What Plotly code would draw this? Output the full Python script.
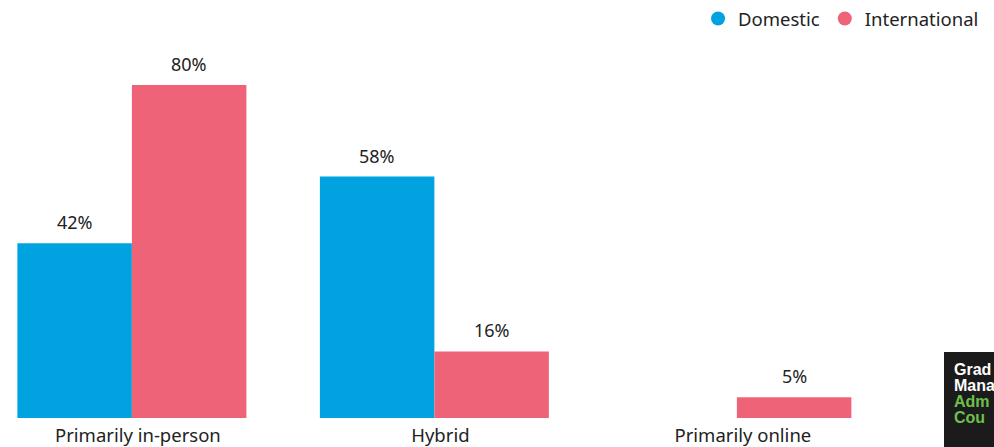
import plotly.graph_objects as go

categories = ["Primarily in-person", "Hybrid", "Primarily online"]
domestic = [42, 58, None]
international = [80, 16, 5]
series_names = ["Domestic", "International"]
colors = ["#00A3E0", "#EF6379"]
logo_lines = ["Grad", "Mana", "Adm", "Cou"]

FONT = "Noto Sans"
TXT = "#222222"
W, H = 994, 447
MB = 29
PLOT_H = H - MB
XR = [-0.436, 2.85]
BARGAP = 0.243
cat_px = W / (XR[1] - XR[0])
bar_px = cat_px * (1 - BARGAP) / 2

fig = go.Figure()
for k, (name, vals, col) in enumerate(zip(series_names, [domestic, international], colors)):
    fig.add_trace(go.Bar(
        x=categories, y=vals, name=name, marker=dict(color=col, line=dict(width=0)),
        showlegend=False, hoverinfo="skip"))
    fig.add_trace(go.Scatter(
        x=[None], y=[None], mode="markers", name=name,
        marker=dict(color=col, size=14, symbol="circle"), showlegend=True))
    shift = (k - 0.5) * bar_px
    for c, v in zip(categories, vals):
        if v is None:
            continue
        fig.add_annotation(x=c, y=v, text=f"{v}%", showarrow=False, xshift=shift,
                           yanchor="middle", yshift=21,
                           font=dict(family=FONT, size=18, color=TXT))

fig.update_layout(
    width=W, height=H,
    margin=dict(l=0, r=0, t=0, b=MB),
    paper_bgcolor="white", plot_bgcolor="white",
    barmode="group", bargap=BARGAP, bargroupgap=0,
    font=dict(family=FONT, size=18, color=TXT),
    legend=dict(orientation="h", x=0.99, xanchor="right", y=1.0, yanchor="top",
                font=dict(family=FONT, size=18.5, color=TXT),
                itemwidth=30, tracegroupgap=0,
                bgcolor="rgba(0,0,0,0)"),
    xaxis=dict(range=XR, showgrid=False, showline=False, zeroline=False,
               ticks="", ticklabelshift=6, ticklabelstandoff=4,
               tickfont=dict(family=FONT, size=18.5, color=TXT)),
    yaxis=dict(range=[0, 100.4], visible=False),
)

# logo box (partially cut off at right edge, as in the reference)
fig.add_shape(type="rect", xref="paper", yref="paper", x0=944 / W, x1=1.05,
              y0=-0.2, y1=(PLOT_H - 352) / PLOT_H, fillcolor="#1b1b1b",
              line=dict(width=0), layer="above")
logo_colors = ["white", "white", "#6CC04A", "#6CC04A"]
for i, (txt, c) in enumerate(zip(logo_lines, logo_colors)):
    ypix = 369 + i * 16
    fig.add_annotation(text=f"<b>{txt}</b>", xref="paper", yref="paper", x=952 / W, xanchor="left",
                       y=(PLOT_H - ypix) / PLOT_H, yanchor="middle", showarrow=False,
                       font=dict(family="Liberation Sans", size=16, color=c))

fig.write_html("out.html", config={"displayModeBar": False},
               post_script="document.body.style.margin='0';")
